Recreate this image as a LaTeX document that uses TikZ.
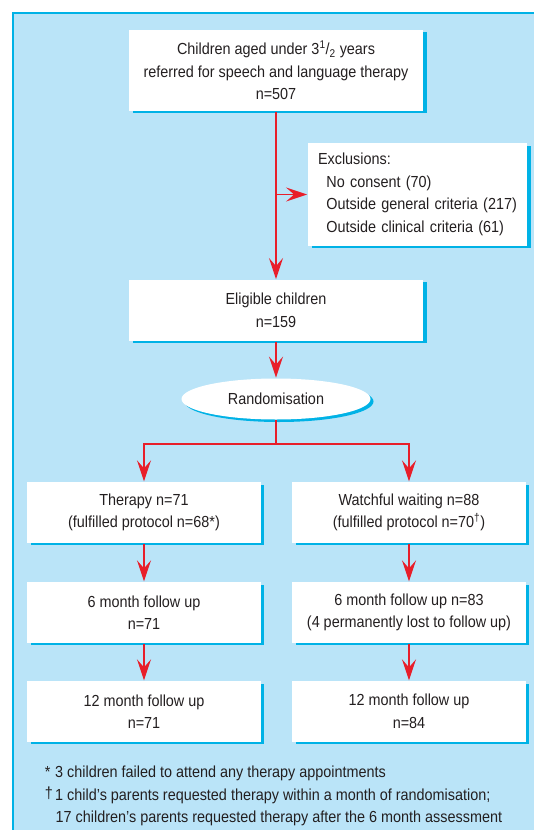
\documentclass[tikz,border=0pt]{standalone}
\usepackage{fontspec}
\setmainfont[FakeStretch=0.9]{Liberation Sans}
\usetikzlibrary{shapes,arrows.meta,positioning,shadows}
\definecolor{bgblue}{RGB}{186,228,248}
\definecolor{cyanbd}{RGB}{0,178,230}
\definecolor{arrred}{RGB}{232,30,42}
\definecolor{txt}{RGB}{35,31,32}

\begin{document}
\begin{tikzpicture}[x=1pt, y=1pt, ->, >={Stealth[length=21pt,width=14pt,inset=8pt]},
line width=1.8pt, font=\fontsize{16}{22.5}\selectfont, text=txt,
box/.style={rectangle, fill=white, align=center, inner sep=0pt,
  minimum width=233.5pt, minimum height=60.5pt,
  drop shadow={shadow xshift=3.5pt, shadow yshift=-2.5pt, fill=cyanbd, opacity=1}},
arr/.style={draw=arrred}]

\useasboundingbox (0,0) rectangle (534,-830);
\fill[bgblue] (13,-13) rectangle (534,-830);
\draw[-, cyanbd, line width=1.2pt] (13,-830) -- (13,-13) -- (534,-13);

\node [box, minimum width=294pt, minimum height=80.7pt] (refer) at (276,-70.3)
  {Children aged under 3\textsuperscript{1}/\textsubscript{2} years\\referred for speech and language therapy\\n=507};
\node [box, minimum width=219pt, minimum height=102.4pt, text width=199pt, inner xsep=10pt, align=left] (excl) at (417.5,-194.5)
  {Exclusions:\\\hspace*{8.4pt}No consent (70)\\\hspace*{8.4pt}Outside general criteria (217)\\\hspace*{8.4pt}Outside clinical criteria (61)};
\node [box, minimum width=294pt, minimum height=60.7pt] (elig) [below of=refer, node distance=240pt]
  {Eligible children\\n=159};
\node [ellipse, fill=white, inner sep=0pt, minimum width=189pt, minimum height=41pt,
  drop shadow={shadow xshift=3pt, shadow yshift=-2.5pt, fill=cyanbd, opacity=1}]
  (rand) [below of=elig, node distance=88.7pt] {Randomisation};
\node [coordinate, below of=rand, node distance=45pt] (fork) {};

\node [box] (ther) at (144,-512.5) {Therapy n=71\\(fulfilled protocol n=68*)};
\node [box] (watch) [right of=ther, node distance=265pt]
  {Watchful waiting n=88\\(fulfilled protocol n=70\textsuperscript{\textdagger})};
\node [box] (ther6) [below of=ther, node distance=100pt] {6 month follow up\\n=71};
\node [box] (watch6) [below of=watch, node distance=100pt] {6 month follow up n=83\\(4 permanently lost to follow up)};
\node [box] (ther12) [below of=ther6, node distance=99pt] {12 month follow up\\n=71};
\node [box] (watch12) [below of=watch6, node distance=99pt] {12 month follow up\\n=84};

% footnotes, anchored on the baseline of the last line
\node [anchor=base west, align=left, inner sep=0pt] (notes) at (44,-822.8)
  {\makebox[10.3pt][l]{*}3 children failed to attend any therapy appointments\\
   \makebox[10.3pt][l]{\raisebox{2pt}{\textdagger}}1 child's parents requested therapy within a month of randomisation;\\
   \hspace*{10.8pt}17 children's parents requested therapy after the 6 month assessment};

\coordinate (split) at (refer.south |- excl.west);
\draw [arr] (refer) -- (elig);
\draw [arr] (split) -- (excl);
\draw [arr] (elig) -- (rand);
\draw [arr, -] (rand) -- (fork);
\draw [arr] (fork) -| (ther);
\draw [arr] (fork) -| (watch);
\draw [arr] (ther) -- (ther6);
\draw [arr] (ther6) -- (ther12);
\draw [arr] (watch) -- (watch6);
\draw [arr] (watch6) -- (watch12);

\end{tikzpicture}
\end{document}
